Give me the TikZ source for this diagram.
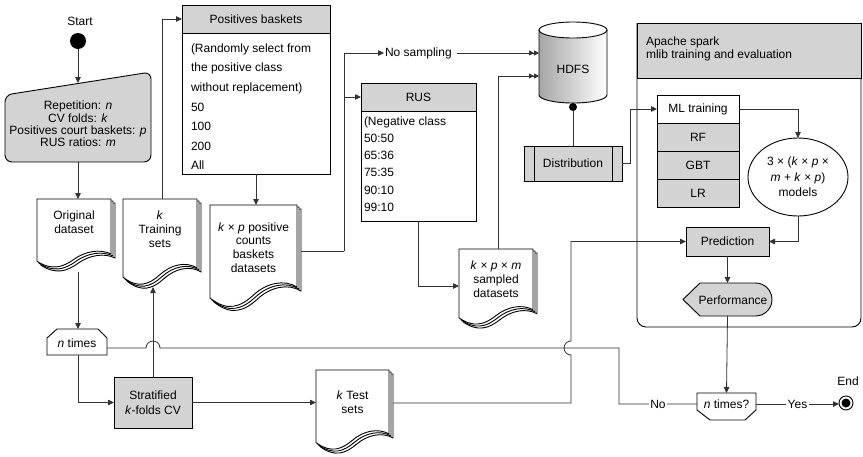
\documentclass[tikz,border=0pt]{standalone}
\usepackage{fontspec}
\setmainfont{Liberation Sans}
\usetikzlibrary{arrows.meta,calc,shapes.geometric}

\definecolor{boxgray}{RGB}{211,211,211}
\definecolor{linegray}{RGB}{50,50,50}

\tikzset{
  every node/.style={font=\fontsize{12}{14}\selectfont, inner sep=0pt, outer sep=0pt},
  conn/.style={draw=linegray, line width=0.8pt},
  arr/.style={-{Triangle[length=6pt,width=5.5pt]}},
  darr/.style={-{Triangle[length=5pt,width=5pt]Triangle[length=5pt,width=5pt]}},
  outline/.style={draw=black, line width=0.9pt},
  graybox/.style={outline, fill=boxgray, rectangle},
  whitebox/.style={outline, fill=white, rectangle},
  docpage/.style={outline, fill=white},
  rowtext/.style={anchor=base west},
  flowlabel/.style={fill=white, inner xsep=1.5pt, inner ysep=1pt},
}

% stacked document pages: name, left, top, width, height
\newcommand{\docstack}[5]{%
  \foreach \o in {4,2,0}{%
    \path[docpage] (#2+\o,#3+\o) -- ++(#4,0) -- ++(0,0.82*#5)
      .. controls (#2+\o+0.85*#4,#3+\o+0.74*#5) and (#2+\o+0.65*#4,#3+\o+0.78*#5) .. (#2+\o+0.5*#4,#3+\o+0.9*#5)
      .. controls (#2+\o+0.35*#4,#3+\o+1.02*#5) and (#2+\o+0.2*#4,#3+\o+1.07*#5) .. (#2+\o,#3+\o+0.93*#5) -- cycle;
  }
  \node[minimum width=#4pt, minimum height=#5pt] (#1) at (#2+#4/2,#3+#5/2) {};
}

\begin{document}
\begin{tikzpicture}[x=1pt,y=-1pt]
\useasboundingbox[fill=white] (0,0) rectangle (863,456);

% ---------- start and parameters ----------
\node (startlbl) at (80,21) {Start};
\node[circle, fill=black, minimum size=16pt] (start) at (78,41) {};
\path[graybox, rounded corners=7] (5,95) -- (151,72) -- (151,162) -- (5,162) -- cycle;
\node[align=center, font=\fontsize{12}{12.4}\selectfont] (params) at (78,124)
  {Repetition: \textit{n}\\CV folds: \textit{k}\\Positives court baskets: \textit{p}\\RUS ratios: \textit{m}};
\coordinate (paramsin) at (78,83);
\coordinate (paramsout) at (78,162);

% ---------- documents ----------
\docstack{orig}{37}{199}{74}{67}
\node[align=center] (origtxt) at (74,222.5) {Original\\dataset};
\docstack{train}{123}{199}{74}{84}
\node[align=center] (traintxt) at (160,229) {\textit{k}\\Training\\sets};
\docstack{kp}{210}{205}{87}{100}
\node[align=center, font=\fontsize{12}{13.7}\selectfont] (kptxt) at (253.5,247.5) {\textit{k} × \textit{p} positive\\counts\\baskets\\datasets};
\docstack{samp}{459}{249}{74}{74}
\node[align=center] (samptxt) at (496,279.5) {\textit{k} × \textit{p} × \textit{m}\\sampled\\datasets};
\docstack{test}{316}{370}{73}{78}
\node[align=center] (testtxt) at (352.5,402) {\textit{k} Test\\sets};

% ---------- loop start ----------
\path[docpage] (47,338) -- (57,329) -- (98,329) -- (107,338) -- (107,355) -- (47,355) -- cycle;
\node[minimum width=60pt, minimum height=24pt] (ntimes) at (77,343) {\textit{n} times};
\coordinate (ntimesin) at (78,329);

% ---------- stratified CV ----------
\node[graybox, minimum width=78pt, minimum height=51pt, align=center, font=\fontsize{12}{15}\selectfont] (strat) at (153,402.5) {Stratified\\\textit{k}-folds CV};

% ---------- positives baskets table ----------
\node[graybox, minimum width=148pt, minimum height=28pt] (poshead) at (256,19) {Positives baskets};
\node[whitebox, minimum width=148pt, minimum height=141pt, anchor=north] (posbody) at (poshead.south) {};
\foreach \t [count=\i] in {{(Randomly select from},{the positive class},{without replacement)},{50},{100},{200},{All}}
  \node[rowtext] (posrow\i) at (191,32.7+19.6*\i) {\t};

% ---------- RUS table ----------
\node[graybox, minimum width=115pt, minimum height=28pt] (rushead) at (418.5,97) {RUS};
\node[whitebox, minimum width=115pt, minimum height=110pt, anchor=north] (rusbody) at (rushead.south) {};
\foreach \t [count=\i] in {{(Negative class},{50:50},{65:36},{75:35},{90:10},{99:10}}
  \node[rowtext] (rusrow\i) at (364,108.1+17.2*\i) {\t};

\node[anchor=west] (nosamp) at (385,53) {No sampling};

% ---------- HDFS storage ----------
\shade[left color=black!35, right color=white, draw=black, line width=0.9pt]
  (539,30) -- (539,95) arc[start angle=180, end angle=0, x radius=34, y radius=8] -- (607,30) -- cycle;
\draw[outline, fill=white] (573,30) ellipse[x radius=34, y radius=8];
\node[minimum width=68pt, minimum height=81pt] (hdfs) at (573,62.5) {};
\node (hdfslbl) at (573,69) {HDFS};
\coordinate (hdfsin2) at (539,76);

\node[graybox, minimum width=98pt, minimum height=35pt] (dist) at (573,163.5) {Distribution};
\draw[outline] ($(dist.north west)+(10,0)$) -- ($(dist.south west)+(10,0)$);
\draw[outline] ($(dist.north east)+(-10,0)$) -- ($(dist.south east)+(-10,0)$);
\node[circle, fill=black, minimum size=8pt] (hdfsdot) at (573,107) {};
\draw[conn] (hdfsdot.south) -- (dist.north);

% ---------- Spark container ----------
\draw[outline, rounded corners=9, fill=white] (637,23) -- (637,327) -- (861,327) -- (861,23);
\node[graybox, minimum width=224pt, minimum height=55pt, anchor=north west] (sparkhead) at (637,23) {};
\node[anchor=west, align=left, font=\fontsize{12}{13}\selectfont] (sparklbl) at (646,48.5) {Apache spark\\mlib training and evaluation};

\node[whitebox, minimum width=82pt, minimum height=28pt] (ml) at (698,109) {ML training};
\node[graybox, minimum width=82pt, minimum height=28pt, anchor=north] (rf) at (ml.south) {RF};
\node[graybox, minimum width=82pt, minimum height=28pt, anchor=north] (gbt) at (rf.south) {GBT};
\node[graybox, minimum width=82pt, minimum height=28pt, anchor=north] (lr) at (gbt.south) {LR};

\draw[outline, fill=white] (798,177) ellipse[x radius=50, y radius=39];
\node[minimum width=100pt, minimum height=78pt, align=center, font=\fontsize{12}{15.5}\selectfont] (models) at (798,177)
  {3 × (\textit{k} × \textit{p} ×\\\textit{m} + \textit{k} × \textit{p})\\models};

\node[graybox, minimum width=83pt, minimum height=29pt] (pred) at (727.5,241.5) {Prediction};

\path[graybox] (700,283) -- (755.5,283) arc[start angle=-90, end angle=90, radius=16.5] -- (700,316) -- (683,299.5) -- cycle;
\node[minimum width=89pt, minimum height=33pt] (perf) at (727.5,299.5) {};
\node (perftxt) at (733,300) {Performance};

% ---------- loop end ----------
\path[docpage] (697,393) -- (756,393) -- (756,410) -- (745,420) -- (710,420) -- (697,410) -- cycle;
\node[minimum width=59pt, minimum height=22pt] (ntq) at (726.5,404) {\textit{n} times?};

\node[circle, outline, fill=white, minimum size=14pt] (endc) at (846,403) {};
\node[circle, fill=black, minimum size=9pt] (enddot) at (846,403) {};
\node (endlbl) at (848,381) {End};

% ---------- connectors ----------
\coordinate (origout) at (78,272);
\coordinate (trainin) at (153,287);
\coordinate (trainout) at (162,199);
\coordinate (kpout) at (301,251);
\coordinate (trunk) at (344,251);
\coordinate (testout) at (393,403);
\coordinate (testturn) at (571,403);
\coordinate (loopcorner) at (619,348);
\coordinate (loopjump) at (153,348);

\draw[conn,arr] (start) -- (paramsin);
\draw[conn,arr] (paramsout) -- (paramsout |- orig.north);
\draw[conn,arr] (origout) -- (ntimesin);
\draw[conn,arr] (ntimes.south -| ntimesin) |- (strat.west);
\draw[conn,arr] (strat.north) -- (strat.north |- trainin);
\draw[conn,arr] (trainout) |- (poshead.west);
\draw[conn,arr] (posbody.south) -- (posbody.south |- kp.north);
\draw[conn] (kpout) -- (trunk);
\draw[conn,arr] (trunk) |- ($(nosamp.west)+(-1,0)$);
\draw[conn,arr] (trunk) |- (rushead.west);
\draw[conn,darr] (nosamp.east) ++(5,0) -- (hdfs.west |- nosamp.east);
\draw[conn,arr] (rusbody.south) |- (samp.west);
\draw[conn,darr] ($(samp.north)+(2,0)$) |- (hdfsin2);
\draw[conn,arr] (dist.east) -- ++(8,0) |- (ml.west);
\draw[conn,arr] (ml.east) -| (models.north);
\draw[conn,arr] (models.south) |- (pred.east);
\draw[conn,arr] (pred.south) -- (perf.north);
\draw[conn,arr] (perf.south) -- (ntq.north);
\draw[conn,arr] (strat.east) -- (strat.east -| test.west);
\draw[conn,arr] (testout) -- (testturn) -- ($(testturn |- loopjump)+(0,7)$)
  arc[start angle=90, end angle=270, radius=7] -- (testturn |- pred.west) -- (pred.west);
\draw[conn] (ntq.west) -- node[flowlabel] (nolbl) {No} (ntq.west -| loopcorner) -- (loopcorner)
  -- ($(loopjump)+(7,0)$) arc[start angle=0, end angle=-180, radius=7] -- (ntimes.east |- loopjump);
\draw[conn,arr] (ntq.east) -- node[flowlabel] (yeslbl) {Yes} (ntq.east -| endc.west);
\end{tikzpicture}
\end{document}
